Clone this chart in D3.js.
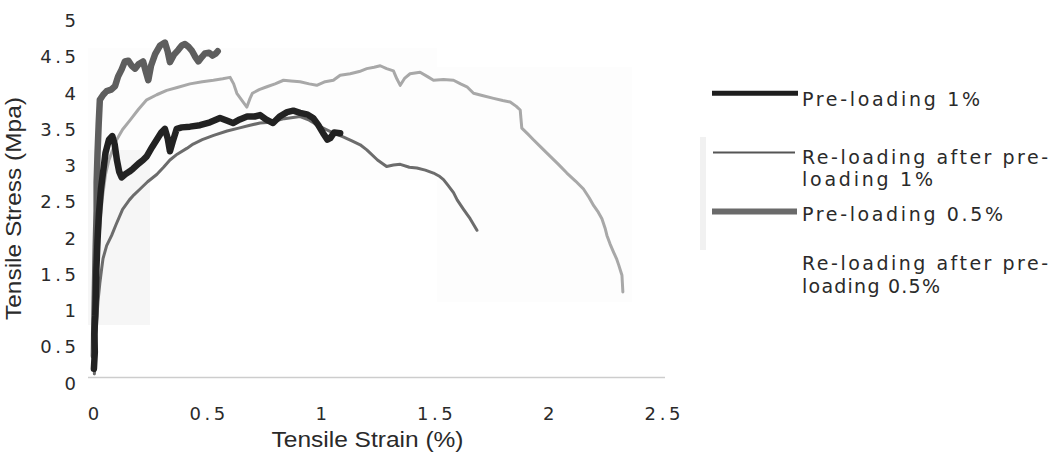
<!DOCTYPE html>
<html><head><meta charset="utf-8">
<script src="https://cdn.jsdelivr.net/npm/d3@7"></script>
<style>html,body{margin:0;padding:0;background:#fff;} svg{display:block}</style>
</head><body>
<svg id="chart" width="1060" height="466"></svg>
<script>
// ---- data ----
const xTickValues = [0, 0.5, 1, 1.5, 2, 2.5];
const xTickLabels = ["0", "0.5", "1", "1.5", "2", "2.5"];
const yTickValues = [0, 0.5, 1, 1.5, 2, 2.5, 3, 3.5, 4, 4.5, 5];
const yTickLabels = ["0", "0.5", "1", "1.5", "2", "2.5", "3", "3.5", "4", "4.5", "5"];
const xTitle = "Tensile Strain (%)";
const yTitle = "Tensile Stress (Mpa)";

const seriesNames = ["Pre-loading 1%", "Re-loading after pre-loading 1%", "Pre-loading 0.5%", "Re-loading after pre-loading 0.5%"];

// [strain %, stress MPa]
const preLoading1 = [[0.004,0.12],[0.008,0.35],[0.006,0.6],[0.01,0.85],[0.012,1.1],[0.015,1.5],[0.02,1.9],[0.026,2.25],[0.035,2.6],[0.045,2.85],[0.055,3.1],[0.07,3.28],[0.085,3.33],[0.095,3.22],[0.105,3.0],[0.115,2.84],[0.126,2.76],[0.14,2.8],[0.16,2.84],[0.176,2.88],[0.2,2.95],[0.22,3.0],[0.236,3.05],[0.26,3.18],[0.28,3.28],[0.3,3.38],[0.316,3.43],[0.328,3.3],[0.338,3.12],[0.35,3.25],[0.368,3.43],[0.39,3.45],[0.426,3.46],[0.47,3.48],[0.514,3.52],[0.558,3.58],[0.59,3.54],[0.615,3.51],[0.645,3.56],[0.677,3.6],[0.71,3.6],[0.734,3.62],[0.76,3.56],[0.791,3.51],[0.82,3.6],[0.853,3.66],[0.88,3.68],[0.91,3.65],[0.94,3.63],[0.967,3.58],[0.99,3.48],[1.011,3.37],[1.03,3.28],[1.042,3.3],[1.06,3.38],[1.086,3.37]];

const reLoading1 = [[0.006,0.05],[0.01,0.3],[0.013,0.55],[0.016,0.78],[0.022,1.05],[0.03,1.3],[0.038,1.5],[0.044,1.64],[0.06,1.82],[0.082,1.96],[0.1,2.1],[0.13,2.32],[0.16,2.45],[0.18,2.52],[0.207,2.6],[0.24,2.7],[0.28,2.8],[0.31,2.9],[0.338,3.0],[0.37,3.08],[0.412,3.16],[0.44,3.22],[0.48,3.28],[0.53,3.34],[0.589,3.4],[0.64,3.44],[0.69,3.48],[0.734,3.51],[0.78,3.52],[0.84,3.57],[0.91,3.6],[0.95,3.55],[0.998,3.46],[1.05,3.38],[1.099,3.32],[1.14,3.26],[1.174,3.21],[1.203,3.14],[1.25,3.0],[1.29,2.91],[1.32,2.93],[1.35,2.94],[1.39,2.9],[1.423,2.89],[1.46,2.86],[1.496,2.82],[1.52,2.78],[1.54,2.73],[1.56,2.65],[1.584,2.55],[1.6,2.45],[1.628,2.32],[1.657,2.19],[1.687,2.03]];

const preLoading05 = [[0.004,0.3],[0.006,0.8],[0.009,1.3],[0.012,1.8],[0.016,2.3],[0.016,2.69],[0.02,3.1],[0.025,3.5],[0.03,3.83],[0.045,3.9],[0.06,3.95],[0.08,3.97],[0.097,4.02],[0.11,4.15],[0.126,4.25],[0.14,4.36],[0.155,4.37],[0.17,4.3],[0.185,4.26],[0.2,4.32],[0.22,4.36],[0.232,4.22],[0.243,4.1],[0.255,4.3],[0.273,4.46],[0.295,4.58],[0.316,4.62],[0.328,4.5],[0.338,4.35],[0.355,4.45],[0.375,4.52],[0.39,4.58],[0.404,4.6],[0.42,4.56],[0.434,4.51],[0.45,4.42],[0.463,4.36],[0.478,4.42],[0.492,4.47],[0.51,4.48],[0.525,4.44],[0.54,4.47],[0.548,4.5]];

const reLoading05 = [[0.004,0.2],[0.008,0.6],[0.012,1.0],[0.018,1.5],[0.028,2.0],[0.04,2.45],[0.055,2.8],[0.07,3.0],[0.088,3.15],[0.104,3.28],[0.13,3.42],[0.163,3.55],[0.2,3.7],[0.236,3.83],[0.28,3.9],[0.324,3.96],[0.37,4.0],[0.426,4.05],[0.48,4.08],[0.529,4.1],[0.57,4.12],[0.602,4.14],[0.618,4.05],[0.632,3.92],[0.655,3.82],[0.676,3.73],[0.69,3.85],[0.70,3.92],[0.73,3.97],[0.764,4.01],[0.8,4.05],[0.837,4.1],[0.87,4.09],[0.91,4.08],[0.95,4.05],[0.983,4.03],[1.02,4.08],[1.056,4.1],[1.086,4.17],[1.13,4.19],[1.17,4.22],[1.203,4.26],[1.235,4.28],[1.262,4.3],[1.29,4.26],[1.32,4.23],[1.335,4.12],[1.35,4.03],[1.37,4.13],[1.393,4.19],[1.437,4.21],[1.47,4.15],[1.496,4.1],[1.54,4.11],[1.584,4.1],[1.615,4.05],[1.643,4.01],[1.672,3.92],[1.71,3.89],[1.76,3.85],[1.8,3.82],[1.833,3.8],[1.86,3.74],[1.877,3.69],[1.88,3.58],[1.884,3.44],[1.91,3.36],[1.935,3.28],[1.97,3.17],[2.009,3.05],[2.045,2.94],[2.082,2.82],[2.12,2.71],[2.155,2.6],[2.18,2.48],[2.2,2.37],[2.22,2.28],[2.236,2.19],[2.25,2.06],[2.258,1.96],[2.272,1.84],[2.287,1.73],[2.3,1.64],[2.31,1.55],[2.324,1.41],[2.326,1.3],[2.328,1.18]];

// ---- drawing ----
const svg = d3.select("#chart");
const textColor = "#2a2a2a";

// faint scan tint blocks
const tints = svg.append("g");
tints.append("rect").attr("x",88).attr("y",48).attr("width",349).attr("height",132).attr("fill","#fdfdfd");
tints.append("rect").attr("x",437).attr("y",67).attr("width",195).attr("height",235).attr("fill","#fdfdfd");
tints.append("rect").attr("x",88).attr("y",150).attr("width",62).attr("height",175).attr("fill","#f6f6f6");
tints.append("rect").attr("x",700).attr("y",137).attr("width",6).attr("height",113).attr("fill","#f1f1f1");

const x = d3.scaleLinear().domain([0, 2.5]).range([93, 662]);
const y = d3.scaleLinear().domain([0, 5]).range([377.5, 15]);

function spread(sel, gap) {
  sel.each(function() {
    const t = this.textContent;
    if (t.length > 1) {
      const w = this.getComputedTextLength() + gap * (t.length - 1);
      d3.select(this).attr("textLength", w).attr("lengthAdjust", "spacing");
    }
  });
}

// baseline
svg.append("line").attr("x1", x(0) - 5).attr("x2", x(2.5) + 3)
  .attr("y1", y(0)).attr("y2", y(0)).attr("stroke", "#cdcdcd").attr("stroke-width", 1.5);

// x axis
const gx = svg.append("g")
  .call(d3.axisBottom(x).tickValues(xTickValues).tickSize(0).tickFormat((d, i) => xTickLabels[i]));
gx.select(".domain").remove();
gx.selectAll("text").attr("y", 420).attr("dy", null)
  .attr("font-family", "'DejaVu Sans', Verdana, sans-serif").attr("font-size", 18).attr("fill", textColor);
spread(gx.selectAll("text"), 3.6);

// y axis
const gy = svg.append("g")
  .call(d3.axisLeft(y).tickValues(yTickValues).tickSize(0).tickFormat((d, i) => yTickLabels[i]));
gy.select(".domain").remove();
gy.selectAll("text").attr("x", 76).attr("y", 11.7).attr("dy", null)
  .attr("font-family", "'DejaVu Sans', Verdana, sans-serif").attr("font-size", 18).attr("fill", textColor);
spread(gy.selectAll("text"), 3.6);

// axis titles
svg.append("text").attr("x", 367.5).attr("y", 447).attr("text-anchor", "middle")
  .attr("font-family", "'Liberation Sans', Arial, sans-serif").attr("font-size", 22).attr("fill", textColor)
  .attr("textLength", 192).attr("lengthAdjust", "spacingAndGlyphs").text(xTitle);
svg.append("text").attr("transform", "translate(21,208.5) rotate(-90)").attr("text-anchor", "middle")
  .attr("font-family", "'Liberation Sans', Arial, sans-serif").attr("font-size", 22).attr("fill", textColor)
  .attr("textLength", 223).attr("lengthAdjust", "spacingAndGlyphs").text(yTitle);

// lines
const line = d3.line().x(d => x(d[0])).y(d => y(d[1]));
const styles = [
  {data: reLoading05, color: "#a8a8a8", width: 3},
  {data: reLoading1, color: "#6c6c6c", width: 3},
  {data: preLoading05, color: "#5e5e5e", width: 6.5},
  {data: preLoading1, color: "#222222", width: 6.5}
];
svg.append("g").selectAll("path").data(styles).join("path")
  .attr("d", s => line(s.data)).attr("fill", "none")
  .attr("stroke", s => s.color).attr("stroke-width", s => s.width)
  .attr("stroke-linejoin", "round").attr("stroke-linecap", "round");

// legend
const legendFont = "'DejaVu Sans', Verdana, sans-serif";
const legendItems = [
  {name: seriesNames[0], lineY: 93.3, x1: 712, x2: 798, color: "#1e1e1e", width: 5,
   lines: [{t: "Pre-loading 1%", y: 106, w: 178}]},
  {name: seriesNames[1], lineY: 152.5, x1: 713, x2: 795, color: "#555555", width: 2,
   lines: [{t: "Re-loading after pre-", y: 164, w: 246}, {t: "loading 1%", y: 186, w: 131}]},
  {name: seriesNames[2], lineY: 211.5, x1: 712, x2: 797, color: "#6a6a6a", width: 6,
   lines: [{t: "Pre-loading 0.5%", y: 221, w: 201}]},
  {name: seriesNames[3], lineY: null,
   lines: [{t: "Re-loading after pre-", y: 270, w: 246}, {t: "loading 0.5%", y: 293, w: 138}]}
];
const lg = svg.append("g");
legendItems.forEach(it => {
  if (it.lineY !== null) {
    lg.append("line").attr("x1", it.x1).attr("x2", it.x2).attr("y1", it.lineY).attr("y2", it.lineY)
      .attr("stroke", it.color).attr("stroke-width", it.width);
  }
  it.lines.forEach(l => {
    lg.append("text").attr("x", 802).attr("y", l.y).attr("font-family", legendFont)
      .attr("font-size", 19).attr("fill", textColor)
      .attr("textLength", l.w).attr("lengthAdjust", "spacing").text(l.t);
  });
});
</script>
</body></html>
